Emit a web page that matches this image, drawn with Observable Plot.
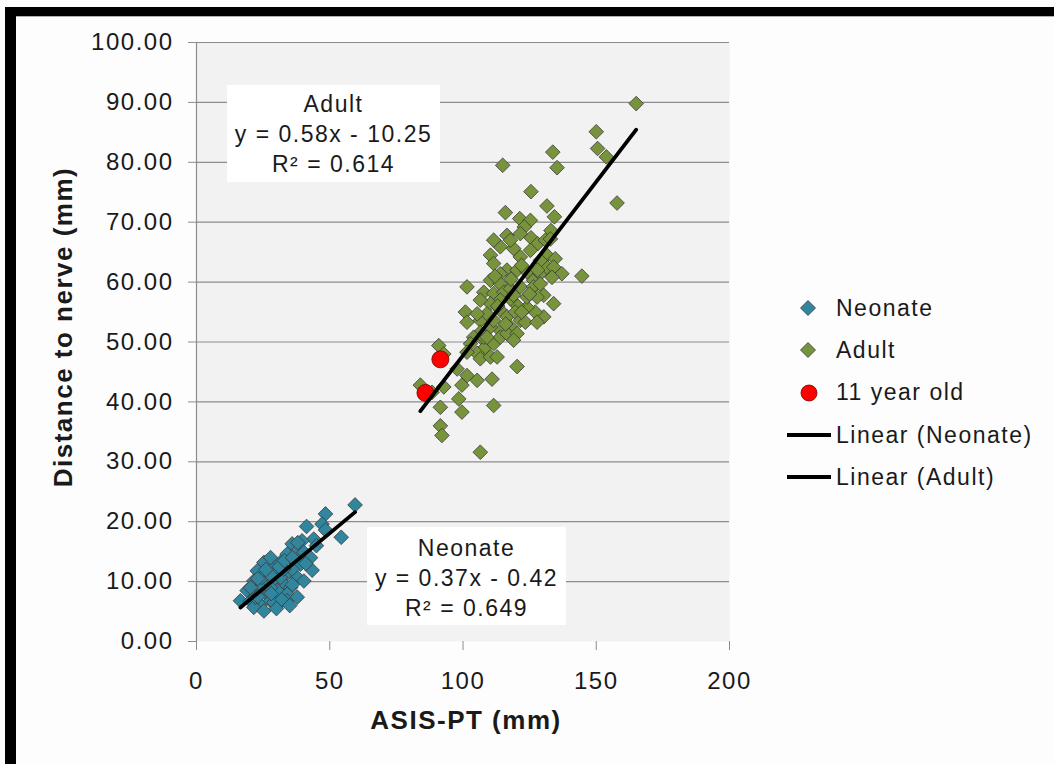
<!DOCTYPE html>
<html>
<head>
<meta charset="utf-8">
<script src="https://cdn.jsdelivr.net/npm/d3@7"></script>
<script src="https://cdn.jsdelivr.net/npm/@observablehq/plot@0.6"></script>
<style>
  html, body { margin: 0; padding: 0; background: #fdfdfd; }
  #page { position: relative; width: 1054px; height: 764px; overflow: hidden; font-family: "Liberation Sans", Arial, sans-serif; }
  #border { position: absolute; left: 5px; top: 7px; width: 1100px; height: 800px; border-top: 9px solid #000; border-left: 11px solid #000; box-sizing: border-box; }
  #border::after { content: ""; position: absolute; left: 0; right: 0; top: 0; height: 1px; background: #b0b0b0; }
  #chart { position: absolute; left: 0; top: 0; }
  #chart svg text { letter-spacing: 1.5px; }
  .box { position: absolute; background: #fff; text-align: center; font-size: 23px; line-height: 30px; letter-spacing: 1.5px; color: #1a1a1a; box-sizing: border-box; }
  #legend { position: absolute; left: 787px; top: 287px; font-size: 23px; letter-spacing: 1.5px; color: #1a1a1a; }
  #legend .row { display: flex; align-items: center; height: 42.3px; }
  #legend svg { width: 44px; height: 30px; margin-right: 5px; flex: none; }
</style>
</head>
<body>
<div id="page">
  <div id="border"></div>
  <div id="chart"></div>
  <div id="legend"></div>
</div>
<script>
// ---- data ----
const neonateX = [48.4,47.1,59.5,48.4,41.3,54.3,44,39.6,35.9,37.8,40.3,42.8,34,36.5,39,43.4,29,25.3,22.8,26.5,30.3,34,37.8,40.3,21.5,25.3,29,32.8,35.3,19,22.8,26.5,30.3,34,16.5,20.3,24,27.8,30.3,21.5,25.3,29,34,37.8,24,20.3,27.8,31.5,35.9,27.8,31.5,32.8,24.6,22.1,28,31,33,36,38,26,23,28,32,36,41,45,30,35,23];
const neonateY = [21.3,19.6,22.8,18.6,19.2,17.4,17.1,16.8,16.3,15.1,14.9,14,14.6,13.5,12.9,11.9,12.6,13.2,11.8,11.3,11.8,11.3,10.7,10.1,10.1,9.6,10.1,9.6,9,8.5,8.5,7.9,8.5,7.9,6.8,6.8,6.2,6.8,6,5.7,5.1,6.5,6.8,7.4,9,9,9,10.7,12.1,14,13.2,12.1,10.7,7.4,11,12.5,13.5,14,16.5,12,10.5,8,7,9.5,13,16,5.5,6,7.5];

const adultX = [165,150,133.7,150.5,153.8,114.9,135.3,125.5,157.8,115.9,131.5,134.3,121.3,125.3,123,133,116.5,125.5,114,119,128,130.9,132.8,125.3,121.5,131.5,134.6,110.3,111.5,116.5,114,120.3,124,126.5,129,131.5,134,137.1,144.6,101.5,110.3,114,107.8,111.5,115.3,117.8,121.5,126.5,130.3,134,130.3,127.1,124,120.3,117.8,114,110.3,106.5,100.9,101.5,106.5,109,114,116.5,119.6,121.5,117.8,114,110.3,106.5,104,107.8,111.5,114,116.5,120.3,123.4,127.8,107.8,105.3,102.8,101.5,106.5,110.3,112.8,90.9,92.8,120.3,97.8,101.5,105.3,99.6,110.9,92.8,84,88.4,98.4,91.5,111.5,99.6,91.5,92.1,106.5,129,133.4,107.8,111.5,119,105.3,124,127.8,111.5,129,117.8,121.5,118,122,113,116,109,125,128,119,112,122];
const adultY = [89.8,85.1,81.7,82.3,80.9,79.5,79.1,75.1,73.2,71.6,72.7,70.9,70.6,70.3,69.2,68.6,67.8,67.4,65.9,65.6,66.4,67,67.2,65.3,64.2,64.5,63.9,64.5,63.1,62,61.4,62,61.7,60.3,61.4,62.5,62.5,61.4,61,59.2,60.3,59.7,58.3,58.1,58.3,58.9,59.2,59.2,57.8,56.4,54.2,55,55.8,56.1,57.2,57,56.4,57,55,53.3,53.6,54.7,55.3,54.2,55,53.6,52.5,51.9,52.5,51.6,50.8,50.3,49.7,50.8,51.4,51.4,53.3,53.3,48.9,48.1,49.7,48.3,47.2,47.5,47.5,49.4,48,45.9,45.5,44.4,43.6,42.8,43.8,42.5,42.8,41.6,40.5,39.1,39.4,38.3,36,34.4,31.6,59.7,60.8,50.8,53.6,50.3,54.7,57.5,57.5,67,63.6,67,68.1,60.5,62.8,56,53,50.8,58,62,57.8,61,55];

const childX = [91.5, 85.9];
const childY = [47.1, 41.5];

const fitNames = ["Neonate", "Adult"];
const fitSlopes = [0.37, 0.58];
const fitIntercepts = [-0.42, -10.25];
const fitR2 = ["0.649", "0.614"];

const xTicks = [0, 50, 100, 150, 200];
const yTicks = [0, 10, 20, 30, 40, 50, 60, 70, 80, 90, 100];
const gridTicks = [10, 20, 30, 40, 50, 60, 70, 80, 90, 100];

const legendLabels = ["Neonate", "Adult", "11 year old", "Linear (Neonate)", "Linear (Adult)"];
const xTitle = "ASIS-PT (mm)";
const yTitle = "Distance to nerve (mm)";

// ---- styling ----
const colNeo = "#31859C";
const colAdult = "#77933C";
const colChild = "#FF0000";
const outline = "#3a3a3a";

const neonate = neonateX.map((x, i) => ({x, y: neonateY[i]}));
const adult = adultX.map((x, i) => ({x, y: adultY[i]}));
const child = childX.map((x, i) => ({x, y: childY[i]}));
const groups = [neonateX, adultX];
const fitLines = fitNames.flatMap((name, i) => {
  const [x0, x1] = d3.extent(groups[i]);
  return [x0, x1].map(x => ({name, x, y: fitSlopes[i] * x + fitIntercepts[i]}));
});

const chart = Plot.plot({
  width: 1054,
  height: 764,
  marginLeft: 196,
  marginRight: 325,
  marginTop: 42,
  marginBottom: 123,
  style: {background: "transparent", fontFamily: "'Liberation Sans', Arial, sans-serif", color: "#1a1a1a", overflow: "visible"},
  x: {domain: [0, 200]},
  y: {domain: [0, 100]},
  marks: [
    Plot.frame({fill: "#f2f2f2", stroke: "none"}),
    Plot.gridY(gridTicks, {stroke: "#8c8c8c", strokeOpacity: 1, strokeWidth: 1.2}),
    Plot.ruleX([0], {stroke: "#8c8c8c", strokeWidth: 1.2}),
    Plot.axisY(yTicks, {tickSize: 8, tickPadding: 15, tickFormat: d3.format(".2f"), fontSize: 24, stroke: "#8c8c8c", fill: "#1a1a1a", label: null}),
    Plot.axisX(xTicks, {tickSize: 9, tickPadding: 21, fontSize: 24, stroke: "#8c8c8c", fill: "#1a1a1a", label: null}),
    Plot.text([xTitle], {frameAnchor: "bottom", dx: 3, dy: 87, fontSize: 26, fontWeight: "bold", fill: "#1a1a1a"}),
    Plot.text([yTitle], {frameAnchor: "left", textAnchor: "middle", rotate: -90, dx: -133, dy: -15, fontSize: 26, fontWeight: "bold", fill: "#1a1a1a"}),
    Plot.dot(neonate, {x: "x", y: "y", symbol: "diamond2", r: 6.6, fill: colNeo, stroke: outline, strokeWidth: 0.8}),
    Plot.dot(adult, {x: "x", y: "y", symbol: "diamond2", r: 6.6, fill: colAdult, stroke: outline, strokeWidth: 0.8}),
    Plot.dot(child, {x: "x", y: "y", symbol: "circle", r: 8.5, fill: colChild, stroke: "#7a0000", strokeWidth: 0.8}),
    Plot.line(fitLines, {x: "x", y: "y", z: "name", stroke: "#000", strokeWidth: 3.8})
  ]
});
document.getElementById("chart").appendChild(chart);

// annotation boxes
const page = document.getElementById("page");
const boxes = [
  {i: 1, left: 227, top: 85, width: 213, height: 97, pad: 4},
  {i: 0, left: 367, top: 527, width: 199, height: 98, pad: 6}
];
for (const b of boxes) {
  const d = document.createElement("div");
  d.className = "box";
  Object.assign(d.style, {left: b.left + "px", top: b.top + "px", width: b.width + "px", height: b.height + "px", paddingTop: b.pad + "px"});
  const sign = fitIntercepts[b.i] < 0 ? " - " : " + ";
  const lines = [fitNames[b.i], `y = ${fitSlopes[b.i].toFixed(2)}x${sign}${Math.abs(fitIntercepts[b.i]).toFixed(2)}`, `R² = ${fitR2[b.i]}`];
  for (const t of lines) { const l = document.createElement("div"); l.textContent = t; d.appendChild(l); }
  page.appendChild(d);
}

// legend
const legend = document.getElementById("legend");
const ns = "http://www.w3.org/2000/svg";
const markers = [
  s => { const p = document.createElementNS(ns, "path"); p.setAttribute("d", "M21,7.5L28.5,15L21,22.5L13.5,15Z"); p.setAttribute("fill", colNeo); p.setAttribute("stroke", outline); p.setAttribute("stroke-width", "0.8"); s.appendChild(p); },
  s => { const p = document.createElementNS(ns, "path"); p.setAttribute("d", "M21,7.5L28.5,15L21,22.5L13.5,15Z"); p.setAttribute("fill", colAdult); p.setAttribute("stroke", outline); p.setAttribute("stroke-width", "0.8"); s.appendChild(p); },
  s => { const c = document.createElementNS(ns, "circle"); c.setAttribute("cx", 22); c.setAttribute("cy", 15); c.setAttribute("r", 8); c.setAttribute("fill", colChild); c.setAttribute("stroke", "#7a0000"); c.setAttribute("stroke-width", "0.8"); s.appendChild(c); },
  s => { const l = document.createElementNS(ns, "line"); l.setAttribute("x1", 0); l.setAttribute("x2", 44); l.setAttribute("y1", 15); l.setAttribute("y2", 15); l.setAttribute("stroke", "#000"); l.setAttribute("stroke-width", 3.8); s.appendChild(l); },
  s => { const l = document.createElementNS(ns, "line"); l.setAttribute("x1", 0); l.setAttribute("x2", 44); l.setAttribute("y1", 15); l.setAttribute("y2", 15); l.setAttribute("stroke", "#000"); l.setAttribute("stroke-width", 3.8); s.appendChild(l); }
];
legendLabels.forEach((label, i) => {
  const row = document.createElement("div");
  row.className = "row";
  const s = document.createElementNS(ns, "svg");
  s.setAttribute("viewBox", "0 0 44 30");
  markers[i](s);
  row.appendChild(s);
  const t = document.createElement("span");
  t.textContent = label;
  row.appendChild(t);
  legend.appendChild(row);
});
</script>
</body>
</html>
